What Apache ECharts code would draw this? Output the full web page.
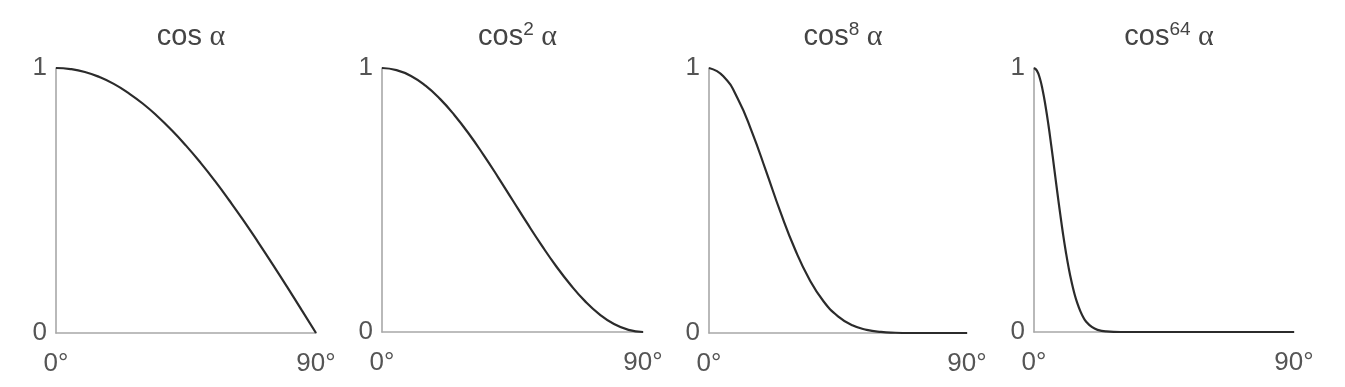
<!DOCTYPE html>
<html>
<head>
<meta charset="utf-8">
<script src="https://cdn.jsdelivr.net/npm/echarts@6/dist/echarts.min.js"></script>
<style>
html,body{margin:0;padding:0;background:#fff;}
#c{width:1345px;height:387px;}
</style>
</head>
<body>
<div id="c"></div>
<script>
// Panel titles: [base, exponent]
var titles = [["cos", ""], ["cos", "2"], ["cos", "8"], ["cos", "64"]];
var xTicks = [0, 90];
var yTicks = [0, 1];

// angles (degrees) used for the first three curves
var angles = [0, 5, 10, 15, 20, 25, 30, 35, 40, 45, 50, 55, 60, 65, 70, 75, 80, 85, 90];
// values
var cos1 = [1, 0.996, 0.985, 0.966, 0.94, 0.906, 0.866, 0.819, 0.766, 0.707, 0.643, 0.574, 0.5, 0.423, 0.342, 0.259, 0.174, 0.087, 0];
var cos2 = [1, 0.992, 0.97, 0.933, 0.883, 0.821, 0.75, 0.671, 0.587, 0.5, 0.413, 0.329, 0.25, 0.179, 0.117, 0.067, 0.03, 0.008, 0];
var cos8 = [1, 0.969, 0.885, 0.758, 0.608, 0.454, 0.316, 0.203, 0.119, 0.063, 0.029, 0.012, 0.004, 0.001, 0, 0, 0, 0, 0];
// the steepest curve is read at finer steps near 0°
var angles64 = [0, 1, 2, 3, 4, 5, 6, 7, 8, 9, 10, 11, 12, 13, 14, 15, 16, 17, 18, 20, 22, 25, 30, 40, 50, 60, 70, 80, 90];
var cos64 = [1, 0.99, 0.962, 0.916, 0.855, 0.784, 0.704, 0.62, 0.535, 0.453, 0.375, 0.305, 0.243, 0.19, 0.145, 0.109, 0.08, 0.057, 0.04, 0.019, 0.008, 0.002, 0, 0, 0, 0, 0, 0, 0];

var seriesX = [angles, angles, angles, angles64];
var seriesY = [cos1, cos2, cos8, cos64];

// layout
var panels = [
  {left: 56, width: 260, top: 68, height: 265},
  {left: 382, width: 261, top: 68, height: 264},
  {left: 709, width: 258, top: 68, height: 265},
  {left: 1034, width: 260, top: 68, height: 264}
];

var SANS = '"Liberation Sans", Arial, Helvetica, sans-serif';
var textCol = '#444';
var axisCol = '#a8a8a8';

var grids = [], xAxes = [], yAxes = [], series = [], titleArr = [];
panels.forEach(function (p, i) {
  grids.push({left: p.left, top: p.top, width: p.width, height: p.height, containLabel: false});
  xAxes.push({
    type: 'value', gridIndex: i, min: xTicks[0], max: xTicks[1], interval: xTicks[1] - xTicks[0],
    axisLine: {show: true, onZero: false, lineStyle: {color: axisCol, width: 1.6}},
    axisTick: {show: false}, splitLine: {show: false},
    axisLabel: {show: true, showMinLabel: true, showMaxLabel: true, formatter: '{value}°', color: '#555', fontSize: 26, fontFamily: SANS, margin: 18}
  });
  yAxes.push({
    type: 'value', gridIndex: i, min: yTicks[0], max: yTicks[1], interval: yTicks[1] - yTicks[0],
    axisLine: {show: true, onZero: false, lineStyle: {color: axisCol, width: 1.6}},
    axisTick: {show: false}, splitLine: {show: false},
    axisLabel: {show: true, showMinLabel: true, showMaxLabel: true, color: '#555', fontSize: 26, fontFamily: SANS, margin: 9, padding: [0, 0, 6, 0]}
  });
  var xs = seriesX[i], ys = seriesY[i];
  var data = xs.map(function (x, k) { return [x, ys[k]]; });
  series.push({
    type: 'line', xAxisIndex: i, yAxisIndex: i, data: data,
    showSymbol: false, symbol: 'none', smooth: 0.5,
    lineStyle: {color: '#2b2b2b', width: 2.2}, silent: true, animation: false, clip: false
  });
  var t = titles[i];
  var txt = '{a|' + t[0] + '}' + (t[1] ? '{s|' + t[1] + '}' : '') + '{g| α}';
  titleArr.push({
    text: txt, left: p.left + p.width / 2, top: 15, textAlign: 'center',
    textStyle: {
      fontWeight: 'normal',
      rich: {
        a: {fontSize: 29, fontWeight: 'normal', fontFamily: SANS, color: textCol, lineHeight: 34},
        s: {fontSize: 19, fontWeight: 'normal', fontFamily: SANS, color: textCol, verticalAlign: 'top', lineHeight: 26},
        g: {fontSize: 30, fontWeight: 'normal', fontFamily: '"Liberation Serif", "DejaVu Serif", serif', color: textCol, lineHeight: 34}
      }
    }
  });
});

var chart = echarts.init(document.getElementById('c'), null, {renderer: 'canvas'});
chart.setOption({
  animation: false,
  backgroundColor: '#fff',
  title: titleArr,
  grid: grids,
  xAxis: xAxes,
  yAxis: yAxes,
  series: series
});
</script>
</body>
</html>
